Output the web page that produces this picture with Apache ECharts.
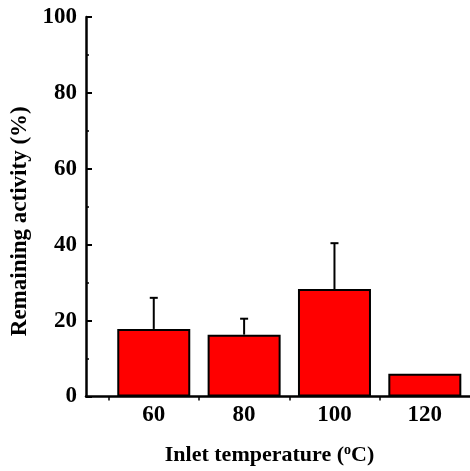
<!DOCTYPE html>
<html>
<head>
<meta charset="utf-8">
<script src="https://cdn.jsdelivr.net/npm/echarts@6/dist/echarts.min.js"></script>
<style>
  html, body { margin: 0; padding: 0; background: #fff; }
  #chart { width: 470px; height: 471px; }
</style>
</head>
<body>
<div id="chart"></div>
<script>
// inlet temperatures (°C) and remaining activity (%)
const temps = [60, 80, 100, 120];
const activity = [17.8, 16.3, 28.3, 6.0];
const errorUp = [8.2, 4.2, 12.1, 0];
const yTicks = [0, 20, 40, 60, 80, 100];

const font = "'Liberation Serif', 'Times New Roman', serif";

let chart = echarts.init(document.getElementById('chart'));

const barData = temps.map((t, i) => [t, activity[i]]);
const errData = temps.map((t, i) => [t, activity[i], activity[i] + errorUp[i]]);

let option = {
    animation: false,
    grid: { left: 86, right: 0, top: 17, bottom: 73 },
    xAxis: {
        type: 'value',
        min: 45,
        max: 130,
        name: 'Inlet temperature ({sup|o}C)',
        nameLocation: 'middle',
        nameGap: 47,
        nameTextStyle: {
            fontFamily: font, fontWeight: 'bold', fontSize: 22, color: '#000',
            padding: [0, 17, 0, 0],
            rich: {
                sup: { fontFamily: font, fontWeight: 'bold', fontSize: 14, color: '#000', verticalAlign: 'top', padding: [0, 0, 9, 0] }
            }
        },
        axisLine: { show: true, lineStyle: { color: '#000', width: 2.5 } },
        axisTick: { show: true, customValues: [50, 70, 90, 110], length: 4, lineStyle: { color: '#000', width: 1.5 } },
        axisLabel: {
            customValues: temps, margin: 7,
            fontFamily: font, fontWeight: 'bold', fontSize: 23, color: '#000'
        },
        splitLine: { show: false }
    },
    yAxis: {
        type: 'value',
        min: 0,
        max: 100,
        interval: 20,
        name: 'Remaining activity (%)',
        nameLocation: 'middle',
        nameGap: 50,
        nameTextStyle: {
            fontFamily: font, fontWeight: 'bold', fontSize: 23, color: '#000',
            padding: [0, 29, 0, 0]
        },
        axisLine: { show: true, lineStyle: { color: '#000', width: 2.5 } },
        axisTick: { show: true, inside: true, length: 6, lineStyle: { color: '#000', width: 2 } },
        minorTick: { show: true, splitNumber: 2, length: 3, lineStyle: { color: '#000', width: 1.5 } },
        axisLabel: {
            margin: 9,
            fontFamily: font, fontWeight: 'bold', fontSize: 23, color: '#000',
            formatter: v => (yTicks.indexOf(v) >= 0 ? String(v) : '')
        },
        splitLine: { show: false }
    },
    series: [
        {
            type: 'bar',
            data: barData,
            barWidth: 73,
            itemStyle: { color: '#ff0000', borderColor: '#000', borderWidth: 2 },
            z: 2
        },
        {
            type: 'custom',
            data: errData,
            z: 3,
            renderItem: function (params, api) {
                const x = api.value(0);
                const top = api.coord([x, api.value(2)]);
                const base = api.coord([x, api.value(1)]);
                if (base[1] - top[1] < 1) return null;
                return {
                    type: 'group',
                    children: [
                        { type: 'line', shape: { x1: top[0], y1: base[1], x2: top[0], y2: top[1] }, style: { stroke: '#000', lineWidth: 2 } },
                        { type: 'line', shape: { x1: top[0] - 4, y1: top[1], x2: top[0] + 4, y2: top[1] }, style: { stroke: '#000', lineWidth: 2 } }
                    ]
                };
            }
        }
    ]
};
chart.setOption(option);
</script>
</body>
</html>
